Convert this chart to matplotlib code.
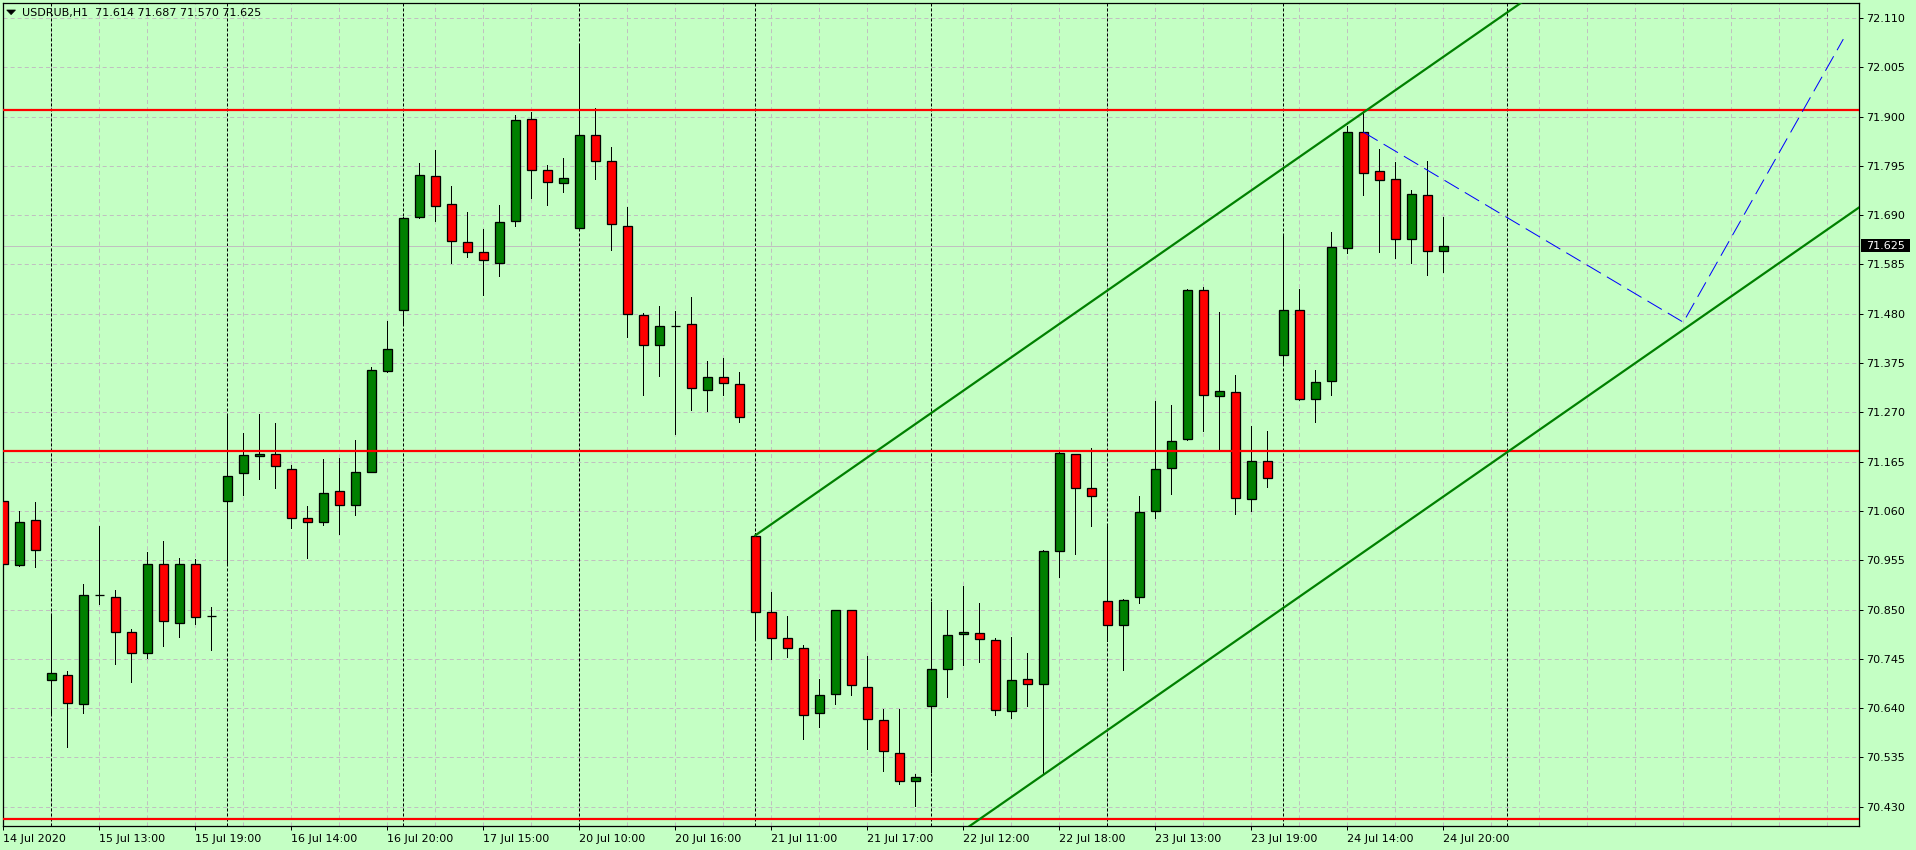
import matplotlib
matplotlib.use("Agg")
import matplotlib.pyplot as plt
import matplotlib.transforms as mtransforms
from matplotlib.patches import Rectangle, Polygon

plt.rcParams['font.family'] = ['DejaVu Sans']
plt.rcParams['lines.scale_dashes'] = False

# USDRUB H1 bars, 14 Jul 18:00 .. 24 Jul 20:00 (index = bar number)
opens = [71.082, 70.944, 71.040, 70.699, 70.711, 70.648, 70.881, 70.877, 70.803, 70.758,
         70.948, 70.822, 70.948, 70.837, 71.082, 71.140, 71.177, 71.182, 71.150, 71.046,
         71.036, 71.102, 71.072, 71.144, 71.359, 71.487, 71.687, 71.773, 71.713, 71.632,
         71.611, 71.588, 71.677, 71.894, 71.786, 71.758, 71.662, 71.860, 71.805, 71.668,
         71.477, 71.413, 71.455, 71.458, 71.317, 71.345, 71.330, 71.007, 70.845, 70.789,
         70.768, 70.630, 70.670, 70.849, 70.685, 70.615, 70.544, 70.484, 70.644, 70.723,
         70.798, 70.800, 70.785, 70.635, 70.703, 70.691, 70.974, 71.181, 71.109, 70.868,
         70.817, 70.877, 71.059, 71.151, 71.213, 71.531, 71.305, 71.313, 71.085, 71.166,
         71.392, 71.488, 71.298, 71.336, 71.620, 71.867, 71.784, 71.767, 71.639, 71.732,
         71.614]
highs = [71.110, 71.061, 71.079, 70.839, 70.720, 70.904, 71.028, 70.892, 70.809, 70.973,
         70.995, 70.960, 70.957, 70.855, 71.262, 71.226, 71.267, 71.247, 71.157, 71.070,
         71.171, 71.172, 71.211, 71.366, 71.465, 71.686, 71.801, 71.828, 71.753, 71.697,
         71.660, 71.711, 71.903, 71.910, 71.797, 71.812, 72.055, 71.918, 71.835, 71.707,
         71.481, 71.497, 71.486, 71.516, 71.380, 71.386, 71.356, 71.013, 70.887, 70.836,
         70.775, 70.703, 70.850, 70.850, 70.752, 70.639, 70.639, 70.500, 70.866, 70.850,
         70.901, 70.863, 70.790, 70.792, 70.758, 70.977, 71.185, 71.182, 71.195, 71.032,
         70.873, 71.092, 71.295, 71.286, 71.532, 71.537, 71.484, 71.349, 71.240, 71.230,
         71.647, 71.533, 71.360, 71.654, 71.881, 71.914, 71.831, 71.803, 71.744, 71.806,
         71.687]
lows = [70.920, 70.942, 70.940, 70.630, 70.558, 70.630, 70.862, 70.734, 70.696, 70.746,
        70.773, 70.792, 70.820, 70.764, 70.948, 71.094, 71.129, 71.109, 71.024, 70.960,
        71.031, 71.012, 71.052, 71.142, 71.357, 71.461, 71.685, 71.677, 71.588, 71.600,
        71.521, 71.561, 71.666, 71.727, 71.712, 71.740, 71.659, 71.768, 71.615, 71.431,
        71.308, 71.348, 71.225, 71.276, 71.274, 71.308, 71.250, 70.785, 70.745, 70.748,
        70.575, 70.599, 70.648, 70.667, 70.552, 70.507, 70.478, 70.432, 70.503, 70.663,
        70.731, 70.738, 70.626, 70.618, 70.645, 70.499, 70.920, 70.969, 71.027, 70.784,
        70.721, 70.863, 71.044, 71.096, 71.212, 71.230, 71.193, 71.054, 71.060, 71.110,
        71.371, 71.296, 71.250, 71.306, 71.610, 71.732, 71.612, 71.598, 71.589, 71.562,
        71.570]
closes = [70.946, 71.037, 70.977, 70.714, 70.652, 70.880, 70.881, 70.803, 70.758, 70.948,
          70.825, 70.946, 70.835, 70.837, 71.135, 71.179, 71.181, 71.155, 71.046, 71.036,
          71.099, 71.072, 71.142, 71.360, 71.404, 71.685, 71.775, 71.710, 71.634, 71.611,
          71.594, 71.675, 71.892, 71.786, 71.760, 71.769, 71.860, 71.805, 71.671, 71.479,
          71.413, 71.455, 71.455, 71.321, 71.345, 71.332, 71.260, 70.845, 70.789, 70.768,
          70.625, 70.668, 70.849, 70.689, 70.617, 70.549, 70.484, 70.493, 70.723, 70.796,
          70.802, 70.787, 70.636, 70.701, 70.691, 70.974, 71.184, 71.109, 71.092, 70.817,
          70.870, 71.057, 71.149, 71.208, 71.531, 71.307, 71.316, 71.088, 71.166, 71.130,
          71.488, 71.298, 71.334, 71.622, 71.867, 71.779, 71.764, 71.639, 71.735, 71.613,
          71.625]

# time axis labels, every 6th bar
tick_labels = ["14 Jul 2020", "15 Jul 13:00", "15 Jul 19:00", "16 Jul 14:00",
               "16 Jul 20:00", "17 Jul 15:00", "20 Jul 10:00", "20 Jul 16:00",
               "21 Jul 11:00", "21 Jul 17:00", "22 Jul 12:00", "22 Jul 18:00",
               "23 Jul 13:00", "23 Jul 19:00", "24 Jul 14:00", "24 Jul 20:00"]
day_starts = [3, 14, 25, 36, 47, 58, 69, 80, 94]
price_ticks = [70.430 + 0.105 * i for i in range(17)]

# drawn objects
levels = [71.915, 71.188, 70.403]
channel_p1 = (47, 71.008)
channel_p2 = (84, 71.885)
channel_p3 = (65, 70.498)
forecast_x = [85, 105, 115]
forecast_y = [71.867, 71.462, 72.065]

BG = '#c4ffc4'
W, H = 1916, 850
n_slots = 116.0
FS = 8.0

fig = plt.figure(figsize=(W / 100, H / 100), dpi=100, facecolor=BG)
ax = fig.add_axes([2.5 / W, 24 / H, (1859.3 - 2.5) / W, (826 - 2.7) / H])
ax.set_facecolor(BG)
ax.set_xlim(-0.05, n_slots)
ax.set_ylim(70.389, 72.1426)
for s in ax.spines.values():
    s.set_color('black')
    s.set_linewidth(0.9)

px = 0.72  # one pixel in points
grid_dash = (0, (2.9, 2.2))

# grid
for p in price_ticks:
    ax.axhline(p, color='#c0c0c0', lw=px, linestyle=grid_dash, zorder=1)
for k in range(0, int(n_slots) + 1, 3):
    ax.axvline(k, color='#c0c0c0', lw=px, linestyle=grid_dash, zorder=1)
for k in day_starts:
    ax.axvline(k, color='black', lw=px, linestyle=(0, (2.2, 1.4)), zorder=1.5)

# bid line
ax.axhline(closes[-1], color='#c0c0c0', lw=px, zorder=1.6)

# candles
w = 9 / 16
for k in range(len(opens)):
    o, h, l, c = opens[k], highs[k], lows[k], closes[k]
    ax.vlines(k, l, h, color='black', lw=px, zorder=2, antialiased=False)
    col = '#008000' if c >= o else '#ff0000'
    ax.add_patch(Rectangle((k - w / 2, min(o, c)), w, abs(c - o), facecolor=col,
                           edgecolor='black', lw=px * 1.3, zorder=3))

# horizontal levels
for lv in levels:
    ax.axhline(lv, color='#ff0000', lw=1.6, zorder=4)

# equidistant channel (rays to the right from the first anchor)
slope = (channel_p2[1] - channel_p1[1]) / (channel_p2[0] - channel_p1[0])
x0, x1 = channel_p1[0], n_slots + 1
up0 = channel_p1[1]
lo0 = channel_p3[1] + slope * (x0 - channel_p3[0])
ax.plot([x0, x1], [up0, up0 + slope * (x1 - x0)], color='#008000', lw=1.6, zorder=4)
ax.plot([x0, x1], [lo0, lo0 + slope * (x1 - x0)], color='#008000', lw=1.6, zorder=4)

# forecast path
ax.plot(forecast_x, forecast_y, color='#0000ff', lw=px, linestyle=(0, (12, 5)), zorder=4)

# axes ticks
ax.yaxis.tick_right()
ax.set_yticks(price_ticks)
ax.set_yticklabels(['%.3f' % p for p in price_ticks])
ax.set_xticks(list(range(0, len(opens), 6)))
ax.set_xticklabels(tick_labels, ha='left')
ax.tick_params(axis='y', direction='out', length=3, width=px, pad=2, labelsize=FS,
               colors='black')
ax.tick_params(axis='x', direction='out', length=3, width=px, pad=2.5, labelsize=FS,
               colors='black')

# bid price label
bt = mtransforms.blended_transform_factory(fig.transFigure, ax.transData)
hh = 12.6 / 469.5
fig.add_artist(Rectangle((1861 / W, closes[-1] - hh / 2), 49 / W, hh, transform=bt,
                         facecolor='black', edgecolor='none', clip_on=False))
fig.text(1865.7 / W, closes[-1], '%.3f' % closes[-1], transform=bt, color='white',
         fontsize=FS, va='center', ha='left')

# header
fig.add_artist(Polygon([(6.7 / W, 1 - 10 / H), (15.5 / W, 1 - 10 / H), (11.1 / W, 1 - 14.6 / H)],
                       closed=True, transform=fig.transFigure, facecolor='black',
                       edgecolor='black', lw=0.5))
header = 'USDRUB,H1  %.3f %.3f %.3f %.3f' % (opens[-1], highs[-1], lows[-1], closes[-1])
fig.text(21.7 / W, 1 - 12.7 / H, header, fontsize=FS, va='center', ha='left', color='black')

fig.savefig('out.png', dpi=100, facecolor=BG)
